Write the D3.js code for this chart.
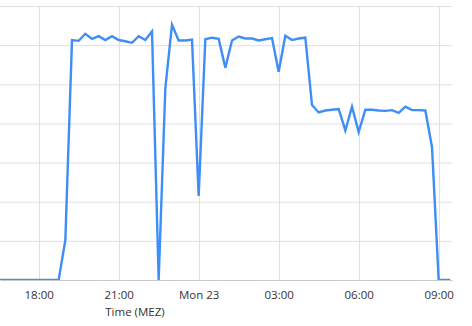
<!DOCTYPE html>
<html>
<head>
<meta charset="utf-8">
<script src="https://cdn.jsdelivr.net/npm/d3@7"></script>
<style>
  body { margin: 0; background: #fff; }
  svg { display: block; }
  .grid line { stroke: #e0e0e0; stroke-width: 1; }
  .axis text { font-family: "Open Sans", "Noto Sans", sans-serif; font-size: 11.5px; fill: #333; }
</style>
</head>
<body>
<svg width="472" height="326"></svg>
<script>
// Messwerte alle 15 Minuten, ab So 22.01. 16:30 (MEZ)
const startTime = new Date(2023, 0, 22, 16, 30);
const stepMinutes = 15;
const values = [
  0, 0, 0, 0, 0, 0, 0, 0, 0, 0,          // 16:30 - 18:45
  10.2, 61.3, 61.1, 62.9, 61.6, 62.3,    // 19:00 - 20:15
  61.3, 62.3, 61.3, 61.0, 60.6, 62.3,    // 20:30 - 21:45
  61.3, 63.5, 0, 49.0, 65.2, 61.2,       // 22:00 - 23:15
  61.2, 61.4, 21.5, 61.5, 61.9, 61.6,    // 23:30 - 00:45
  54.2, 61.2, 62.2, 61.7, 61.7, 61.2,    // 01:00 - 02:15
  61.5, 61.8, 53.2, 62.4, 61.3, 61.7,    // 02:30 - 03:45
  61.9, 44.7, 42.8, 43.3, 43.5, 43.7,    // 04:00 - 05:15
  38.2, 44.3, 37.8, 43.5, 43.5, 43.3,    // 05:30 - 06:45
  43.2, 43.4, 42.7, 44.3, 43.4, 43.4,    // 07:00 - 08:15
  43.3, 34.0, 0, 0                       // 08:30 - 09:15
];
// letzter Wert (nicht im 15-Minuten-Raster)
const lastPoint = { time: new Date(2023, 0, 23, 9, 26), value: 0 };

const xDomain = [new Date(2023, 0, 22, 16, 33), new Date(2023, 0, 23, 9, 30)];
const yDomain = [0, 70];
const yTicks = [0, 10, 20, 30, 40, 50, 60, 70];
const xLabel = "Time (MEZ)";

let data = values.map((v, i) => ({
  time: d3.timeMinute.offset(startTime, i * stepMinutes),
  value: v
}));
data.push(lastPoint);

const svg = d3.select("svg");
const margin = { top: 6, right: 20, bottom: 46, left: 0 };
const width = +svg.attr("width") - margin.left - margin.right;
const height = +svg.attr("height") - margin.top - margin.bottom;

const x = d3.scaleTime().domain(xDomain).range([0, width]);
const y = d3.scaleLinear().domain(yDomain).range([height, 0]);

const g = svg.append("g").attr("transform", `translate(${margin.left},${margin.top})`);

svg.append("defs").append("clipPath").attr("id", "clip")
  .append("rect").attr("width", width).attr("height", height + 2).attr("y", -2);

// Gitterlinien
const xTicks = x.ticks(d3.timeHour.every(3));
g.append("g").attr("class", "grid")
  .selectAll("line.h")
  .data(yTicks.slice(1))
  .enter().append("line")
  .attr("x1", 0).attr("x2", width)
  .attr("y1", d => y(d) + 0.5).attr("y2", d => y(d) + 0.5);
g.append("g").attr("class", "grid")
  .selectAll("line.v")
  .data(xTicks)
  .enter().append("line")
  .attr("x1", d => Math.round(x(d)) + 0.5).attr("x2", d => Math.round(x(d)) + 0.5)
  .attr("y1", 0).attr("y2", height);

// Linie
const line = d3.line().x(d => x(d.time)).y(d => y(d.value));
g.append("path")
  .datum(data)
  .attr("clip-path", "url(#clip)")
  .attr("fill", "none")
  .attr("stroke", "#3f8ef8")
  .attr("stroke-width", 2.4)
  .attr("stroke-linejoin", "miter")
  .attr("d", line);

// x-Achse
const fmt = d => d.getHours() === 0 ? d3.timeFormat("%a %d")(d) : d3.timeFormat("%H:%M")(d);
const xAxis = g.append("g").attr("class", "axis")
  .attr("transform", `translate(0,${height})`)
  .call(d3.axisBottom(x).ticks(d3.timeHour.every(3)).tickFormat(fmt).tickSize(0).tickPadding(11));
xAxis.select(".domain").attr("stroke", "#c8c8c8").attr("stroke-width", 1.2);

g.append("text")
  .attr("x", 135)
  .attr("y", height + 36)
  .attr("text-anchor", "middle")
  .style("font-family", "\"Open Sans\", \"Noto Sans\", sans-serif")
  .style("font-size", "11.5px")
  .style("fill", "#333")
  .text(xLabel);
</script>
</body>
</html>
